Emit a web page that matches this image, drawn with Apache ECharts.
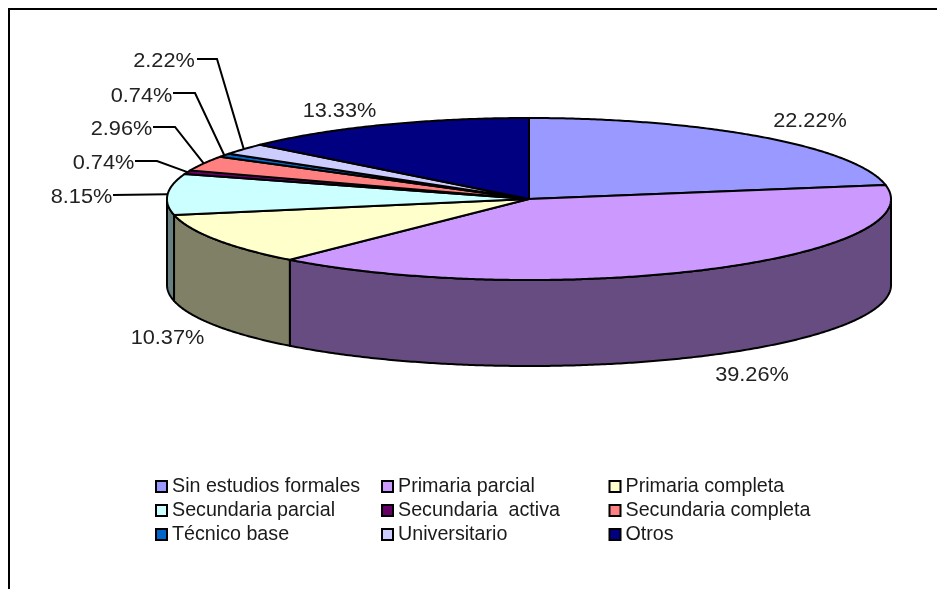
<!DOCTYPE html>
<html>
<head>
<meta charset="utf-8">
<style>html,body{margin:0;padding:0;background:#fff}#c{width:937px;height:589px}</style>
<script src="https://cdn.jsdelivr.net/npm/echarts@6/dist/echarts.min.js"></script>
</head>
<body>
<div id="c"></div>
<script>
const categories = ['Sin estudios formales','Primaria parcial','Primaria completa','Secundaria parcial','Secundaria  activa','Secundaria completa','Técnico base','Universitario','Otros'];
const percentages = [22.22,39.26,10.37,8.15,0.74,2.96,0.74,2.22,13.33];
const topColors = ['#9999FF','#CC99FF','#FFFFCC','#CCFFFF','#660066','#FF8080','#0066CC','#CCCCFF','#000080'];
const sideColors = ['#4C4C80','#664C80','#808066','#668080','#330033','#804040','#003366','#666680','#000040'];

// Layout: 3D projection and label placement (not data)
const FONT = '"Liberation Sans", Arial, sans-serif';
const PIE = {cx:529, cy:199, rx:362, ry:81, depth:86};
const labelLayout = [
  {x:810,y:121},{x:752,y:375},{x:167.5,y:338},
  {x:81.5,y:197,elbow:[113,195]},
  {x:103.5,y:163,elbow:[135,161],via:[157,161]},
  {x:121.5,y:129,elbow:[153,127],via:[175,127]},
  {x:141.5,y:96,elbow:[173,93],via:[195,93]},
  {x:164,y:61,elbow:[197,59],via:[217,59]},
  {x:339.5,y:111}
];

const total = percentages.reduce((a,b)=>a+b,0);
let run = 0;
const spans = percentages.map(p=>{const s=run; run+=p; return [s/total*360, run/total*360, p];});

function rim(t, dy){
  const r = t*Math.PI/180;
  return [PIE.cx+PIE.rx*Math.sin(r), PIE.cy-PIE.ry*Math.cos(r)+(dy||0)];
}
function arc(a,b,dy){
  const pts=[]; const n=Math.max(2,Math.ceil(Math.abs(b-a)*2));
  for(let i=0;i<=n;i++) pts.push(rim(a+(b-a)*i/n,dy));
  return pts;
}
const outline = {stroke:'#000', lineWidth:2, lineJoin:'round'};

const topSeries = categories.map((name,i)=>({
  type:'custom', name, coordinateSystem:'none', z:3, silent:true, animation:false,
  itemStyle:{color:topColors[i]},
  data:[spans[i]],
  renderItem:(params,api)=>({
    type:'polygon',
    shape:{points:[[PIE.cx,PIE.cy]].concat(arc(api.value(0),api.value(1)))},
    style:Object.assign({fill:topColors[i]},outline)
  })
}));

const sideSeries = {
  type:'custom', name:'lados', coordinateSystem:'none', z:2, silent:true, animation:false,
  data:spans.map((s,i)=>[s[0],s[1],i]),
  renderItem:(params,api)=>{
    const a=Math.max(api.value(0),90), b=Math.min(api.value(1),270);
    if(b<=a) return {type:'group',children:[]};
    return {
      type:'polygon',
      shape:{points:arc(a,b,0).concat(arc(b,a,PIE.depth))},
      style:Object.assign({fill:sideColors[api.value(2)]},outline)
    };
  }
};

const labelSeries = {
  type:'custom', name:'etiquetas', coordinateSystem:'none', z:4, silent:true, animation:false,
  data:spans.map((s,i)=>[s[0],s[1],s[2],i]),
  renderItem:(params,api)=>{
    const i=api.value(3), L=labelLayout[i], kids=[];
    if(L.elbow){
      const pts=[L.elbow];
      if(L.via) pts.push(L.via);
      pts.push(rim((api.value(0)+api.value(1))/2));
      kids.push({type:'polyline',shape:{points:pts},style:{stroke:'#000',lineWidth:2,fill:null}});
    }
    kids.push({type:'text',x:L.x,y:L.y,scaleX:1.06,style:{
      text:api.value(2).toFixed(2)+'%',font:'20.5px '+FONT,fill:'#222',align:'center',verticalAlign:'middle'
    }});
    return {type:'group',children:kids};
  }
};

const legendColumn = (idx,left)=>({
  orient:'vertical', left, top:476, padding:0, itemGap:3, itemWidth:11, itemHeight:11,
  icon:'rect', selectedMode:false,
  itemStyle:{borderColor:'#000',borderWidth:2},
  textStyle:{fontFamily:FONT,color:'#1a1a1a',lineHeight:18,fontSize:19.7,padding:[0,0,3,0]},
  data:idx.map(i=>categories[i])
});

const chart = echarts.init(document.getElementById('c'),null,{renderer:'canvas'});
chart.setOption({
  animation:false,
  backgroundColor:'#fff',
  legend:[legendColumn([0,3,6],155),legendColumn([1,4,7],381),legendColumn([2,5,8],608.5)],
  graphic:[
    {type:'line',shape:{x1:9,y1:9,x2:937,y2:9},style:{stroke:'#000',lineWidth:2}},
    {type:'line',shape:{x1:9,y1:8,x2:9,y2:589},style:{stroke:'#000',lineWidth:2}}
  ],
  series:[sideSeries].concat(topSeries,[labelSeries])
});
</script>
</body>
</html>
